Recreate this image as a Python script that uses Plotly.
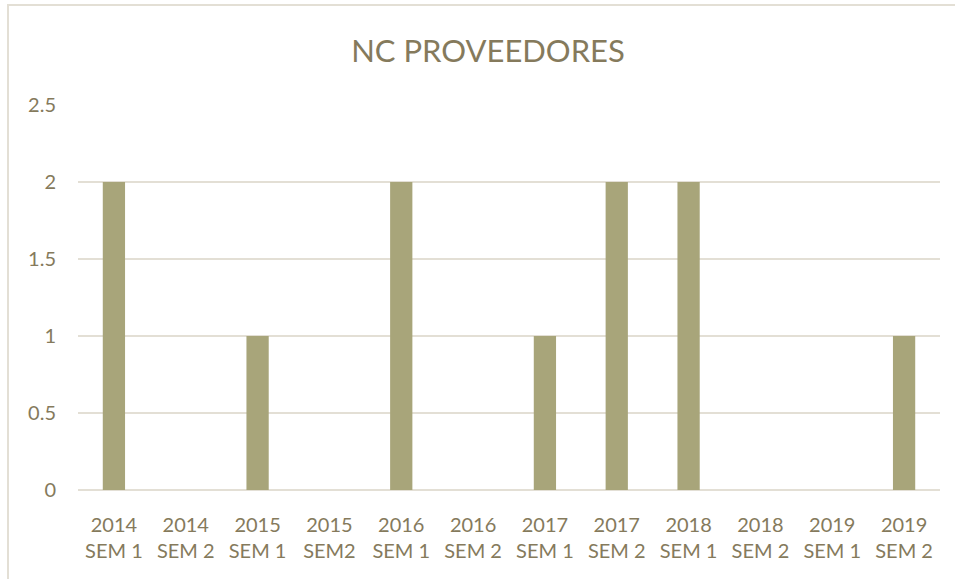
import plotly.graph_objects as go

categories = ["2014<br>SEM 1", "2014<br>SEM 2", "2015<br>SEM 1", "2015<br>SEM2",
              "2016<br>SEM 1", "2016<br>SEM 2", "2017<br>SEM 1", "2017<br>SEM 2",
              "2018<br>SEM 1", "2018<br>SEM 2", "2019<br>SEM 1", "2019<br>SEM 2"]
values = [2, 0, 1, 0, 2, 0, 1, 2, 2, 0, 0, 1]
y_ticks = [0, 0.5, 1, 1.5, 2, 2.5]
y_tick_labels = ["0", "0.5", "1", "1.5", "2", "2.5"]

text_color = "#857A5C"
grid_color = "#E3DFD5"
bar_color = "#A8A57A"
font_family = "Lato, Open Sans, sans-serif"

fig = go.Figure(go.Bar(x=categories, y=values, marker_color=bar_color,
                       marker_line_width=0, width=0.31))

L, R, T, B = 78, 15, 105, 89
W, H = 955, 579
pw, ph = W - L - R, H - T - B

fig.update_layout(
    width=W, height=H,
    margin=dict(l=L, r=R, t=T, b=B, autoexpand=False),
    paper_bgcolor="white", plot_bgcolor="white",
    font=dict(family=font_family, color=text_color, size=20),
    title=dict(text="NC PROVEEDORES", x=488 / W, xanchor="center",
               y=1 - 51 / H, yanchor="middle",
               font=dict(size=31, color=text_color, family=font_family)),
    showlegend=False,
    shapes=[dict(type="rect", xref="paper", yref="paper",
                 x0=(8 - L) / pw, x1=(W + 20 - L) / pw,
                 y0=-(B + 20) / ph, y1=(ph + T - 5) / ph,
                 line=dict(color=grid_color, width=2), fillcolor="rgba(0,0,0,0)",
                 layer="below")],
)
fig.update_xaxes(showgrid=False, showline=False, ticks="", zeroline=False,
                 automargin=False,
                 tickfont=dict(size=20, color=text_color), ticklabelstandoff=21)
fig.update_yaxes(range=[0, 2.5], tickvals=y_ticks, ticktext=y_tick_labels,
                 automargin=False,
                 showgrid=True, gridcolor=grid_color, gridwidth=1.5,
                 zeroline=True, zerolinecolor=grid_color, zerolinewidth=1.5,
                 showline=False, ticks="", ticklabelstandoff=21,
                 tickfont=dict(size=20, color=text_color))

fig.write_html("out.html", config={"displayModeBar": False},
               post_script="document.body.style.margin='0';document.body.style.overflow='hidden';")
